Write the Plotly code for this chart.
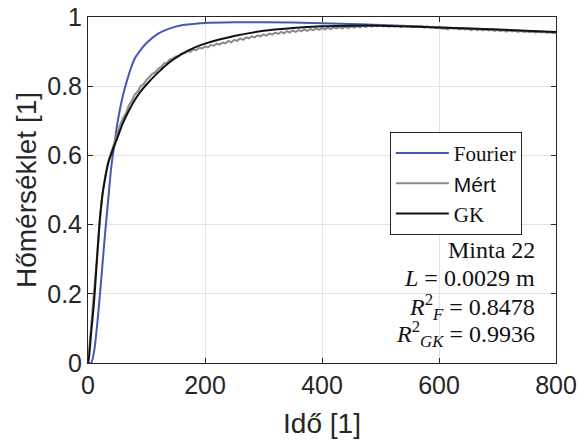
import plotly.graph_objects as go

# Fourier model curve
t_fourier = [0, 5, 10, 15, 20, 25, 30, 35, 40, 45, 50, 60, 70, 80, 90, 100, 120, 140, 160, 180,
             200, 250, 300, 350, 400, 500, 600, 700, 800]
y_fourier = [0, 0.0, 0.03, 0.10, 0.19, 0.29, 0.39, 0.48, 0.57, 0.63, 0.69, 0.775, 0.835, 0.88,
             0.905, 0.925, 0.952, 0.967, 0.976, 0.980, 0.983, 0.985, 0.985, 0.984, 0.982,
             0.977, 0.970, 0.963, 0.955]

# GK model curve
t_gk = [0, 2, 5, 10, 15, 20, 25, 30, 35, 40, 50, 60, 70, 80, 90, 100, 120, 140, 160, 180,
        200, 250, 300, 350, 400, 450, 500, 600, 700, 800]
y_gk = [0, 0.02, 0.08, 0.17, 0.29, 0.41, 0.49, 0.54, 0.58, 0.605, 0.65, 0.695, 0.73, 0.76,
        0.785, 0.805, 0.84, 0.87, 0.893, 0.91, 0.923, 0.945, 0.96, 0.968, 0.973, 0.975,
        0.975, 0.97, 0.964, 0.957]

# Measured data
t_meas = [0, 2, 4, 6, 8, 10, 12, 15, 18, 20, 25, 30, 35, 40, 45] + list(range(50, 805, 5))
y_meas = [0, 0.04, 0.08, 0.11, 0.15, 0.18, 0.22, 0.30, 0.36, 0.41, 0.49, 0.545, 0.585, 0.61, 0.638,
          0.660, 0.688, 0.708, 0.722, 0.745, 0.758, 0.776, 0.785, 0.800, 0.806,
          0.818, 0.826, 0.836, 0.840, 0.851, 0.855, 0.866, 0.868, 0.877, 0.880,
          0.886, 0.887, 0.894, 0.895, 0.901, 0.900, 0.906, 0.904, 0.911, 0.909,
          0.915, 0.912, 0.919, 0.917, 0.923, 0.920, 0.926, 0.924, 0.931, 0.927,
          0.934, 0.931, 0.938, 0.934, 0.941, 0.938, 0.944, 0.941, 0.947, 0.944,
          0.950, 0.946, 0.952, 0.949, 0.955, 0.951, 0.957, 0.953, 0.959, 0.955,
          0.961, 0.957, 0.962, 0.959, 0.964, 0.960, 0.965, 0.962, 0.967, 0.963,
          0.968, 0.964, 0.969, 0.965, 0.970, 0.967, 0.971, 0.967, 0.972, 0.968,
          0.973, 0.969, 0.974, 0.970, 0.975, 0.971, 0.976, 0.972, 0.976, 0.973,
          0.977, 0.973, 0.975, 0.972, 0.976, 0.973, 0.975, 0.971, 0.975, 0.972,
          0.974, 0.970, 0.974, 0.971, 0.973, 0.969, 0.973, 0.970, 0.972, 0.968,
          0.971, 0.966, 0.967, 0.964, 0.969, 0.966, 0.968, 0.964, 0.967, 0.964,
          0.966, 0.962, 0.966, 0.962, 0.965, 0.961, 0.965, 0.961, 0.963, 0.960,
          0.963, 0.959, 0.962, 0.958, 0.962, 0.958, 0.961, 0.957, 0.960, 0.957,
          0.959, 0.956, 0.959, 0.955, 0.958, 0.955, 0.957, 0.954, 0.957, 0.953,
          0.956]

x_ticks = [0, 200, 400, 600, 800]
y_ticks = [0, 0.2, 0.4, 0.6, 0.8, 1]

info_lines = ["Minta 22", "<i>L</i> = 0.0029 m", "<i>R</i><sup>2</sup><sub><i>F</i></sub> = 0.8478",
              "<i>R</i><sup>2</sup><sub><i>GK</i></sub> = 0.9936"]
info_y = [0.327, 0.245, 0.162, 0.085]

SERIF = "Liberation Serif, DejaVu Serif, serif"
SANS = "Liberation Sans, Arial, sans-serif"

fig = go.Figure()
fig.add_trace(go.Scatter(x=t_fourier, y=y_fourier, mode="lines",
                         line=dict(color="#4657b5", width=2, shape="spline"),
                         name="Fourier"))
fig.add_trace(go.Scatter(x=t_meas, y=y_meas, mode="lines",
                         line=dict(color="#8a8a8a", width=2),
                         name="<span style='font-family:Liberation Sans'>Mért</span>"))
fig.add_trace(go.Scatter(x=t_gk, y=y_gk, mode="lines",
                         line=dict(color="#111111", width=2, shape="spline"),
                         name="GK"))

for txt, yy in zip(info_lines, info_y):
    fig.add_annotation(x=0.959, y=yy, xref="paper", yref="paper", text=txt,
                       showarrow=False, xanchor="right", yanchor="middle",
                       font=dict(family=SERIF, size=24, color="#111111"))

axis_common = dict(showline=True, linecolor="#262626", linewidth=1, mirror="ticks",
                   ticks="inside", ticklen=5, tickcolor="#262626", automargin=False,
                   ticklabeloverflow="allow",
                   showgrid=True, gridcolor="#e3e3e3", gridwidth=1, zeroline=False,
                   tickfont=dict(family=SANS, size=25, color="#262626"))

fig.update_layout(
    width=578, height=444,
    margin=dict(l=88, r=22, t=17, b=81),
    paper_bgcolor="white", plot_bgcolor="white",
    showlegend=True,
    legend=dict(x=0.645, y=0.668, xanchor="left", yanchor="top",
                bgcolor="white", bordercolor="#262626", borderwidth=1,
                font=dict(family=SERIF, size=21, color="#111111"),
                tracegroupgap=0, itemwidth=53),
    xaxis=dict(range=[0, 800], tickvals=x_ticks,
               title=dict(text="Idő [1]", font=dict(family=SANS, size=28, color="#262626")),
               **axis_common),
    yaxis=dict(range=[0, 1], tickvals=y_ticks,
               title=dict(text="Hőmérséklet [1]", font=dict(family=SANS, size=28, color="#262626"),
                          standoff=2),
               **axis_common),
)

# remove the browser's default page margin so the figure fills the window exactly
fig.write_html("out.html", config={"displayModeBar": False},
               post_script="document.body.style.margin='0';document.body.style.overflow='hidden';")
